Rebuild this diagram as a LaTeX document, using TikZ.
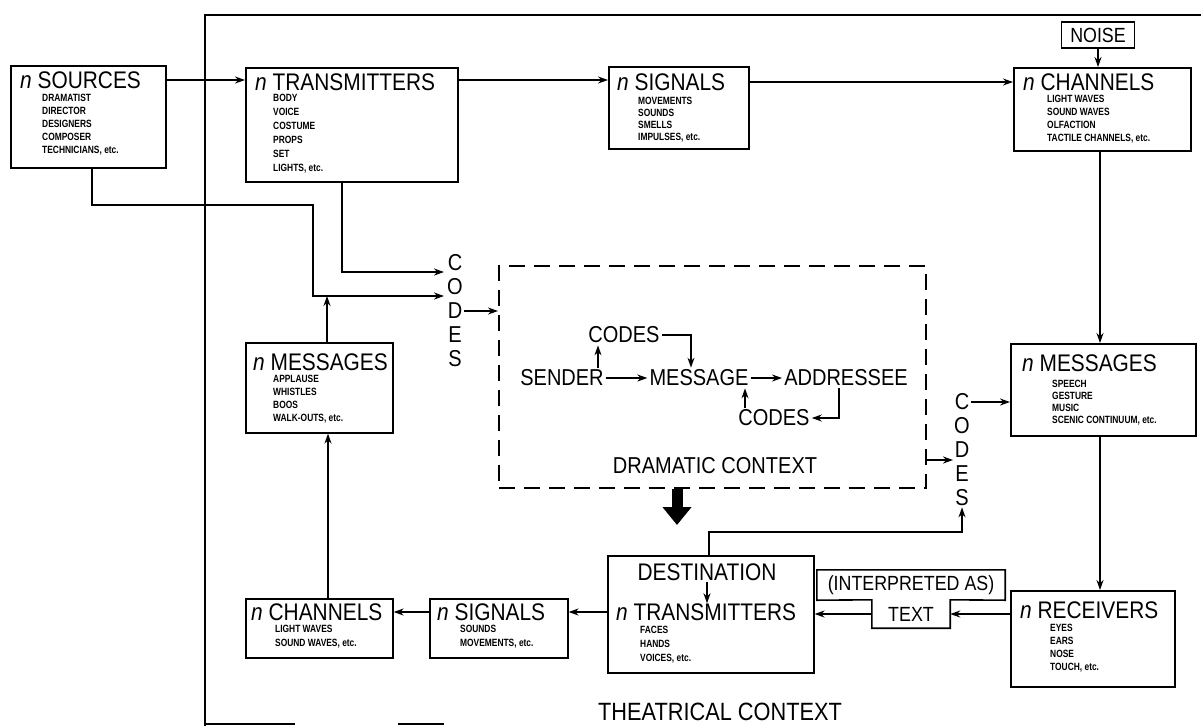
\documentclass[tikz,border=0pt]{standalone}
\usepackage{fontspec}
\setmainfont{Liberation Sans}
\newfontfamily\itemfont{Liberation Sans}[FakeStretch=0.8]
\newfontfamily\letterfont{Liberation Sans}[FakeStretch=0.87]
\usetikzlibrary{arrows.meta}
\begin{document}
\begin{tikzpicture}[x=1pt,y=-1pt,
  box/.style={draw,line width=1.6pt,anchor=north west,inner sep=0pt},
  ttl/.style={anchor=west,inner sep=0pt,font=\letterfont\fontsize{24}{24}\selectfont},
  itm/.style={anchor=north west,inner sep=0pt,align=left,font=\itemfont\fontsize{10.5}{13}\selectfont\bfseries},
  big/.style={inner sep=2pt,font=\letterfont\fontsize{23}{23}\selectfont},
  vcodes/.style={inner sep=1pt,align=center,font=\letterfont\fontsize{23}{24}\selectfont},
  ar/.style={line width=1.5pt,-{Stealth[length=10pt,width=7pt]}},
  ln/.style={line width=1.5pt},
  dashbox/.style={draw,line width=1.5pt,dash pattern=on 16pt off 9pt,anchor=north west,inner sep=0pt},
]
\useasboundingbox (0,0) rectangle (1201,726);

% theatrical frame
\draw[line width=1.6pt] (1201,15) -- (205,15) -- (205,726);
\draw[line width=1.6pt] (205,724) -- (295,724) (398,724) -- (444,724);

% ---- top row
\node[box,minimum width=155,minimum height=102] (src) at (10,65) {};
\node[ttl] (srcT) at (20,80) {\textit{n} SOURCES};
\node[itm] (srcI) at (42,94) {DRAMATIST\\DIRECTOR\\DESIGNERS\\COMPOSER\\TECHNICIANS, etc.};

\node[box,minimum width=212,minimum height=114] (trT) at (245,67) {};
\node[ttl] (trTT) at (255,82) {\textit{n} TRANSMITTERS};
\node[itm,font=\itemfont\fontsize{10.5}{14}\selectfont\bfseries] (trTI) at (273,94) {BODY\\VOICE\\COSTUME\\PROPS\\SET\\LIGHTS, etc.};

\node[box,minimum width=140,minimum height=82] (sgT) at (608,66) {};
\node[ttl] (sgTT) at (617,82) {\textit{n} SIGNALS};
\node[itm,font=\itemfont\fontsize{10.5}{12}\selectfont\bfseries] (sgTI) at (638,97) {MOVEMENTS\\SOUNDS\\SMELLS\\IMPULSES, etc.};

\node[draw,line width=1.6pt,minimum width=73,minimum height=26,inner sep=0pt,font=\letterfont\fontsize{20.5}{20.5}\selectfont] (noise) at (1098,35) {NOISE};

\node[box,minimum width=177,minimum height=83] (chT) at (1013,67) {};
\node[ttl] (chTT) at (1023,82) {\textit{n} CHANNELS};
\node[itm,font=\itemfont\fontsize{10.5}{13}\selectfont\bfseries] (chTI) at (1047,95) {LIGHT WAVES\\SOUND WAVES\\OLFACTION\\TACTILE CHANNELS, etc.};

% ---- messages
\node[box,minimum width=185,minimum height=92] (msR) at (1010,343) {};
\node[ttl] (msRT) at (1022,363) {\textit{n} MESSAGES};
\node[itm,font=\itemfont\fontsize{10.5}{12}\selectfont\bfseries] (msRI) at (1052,380) {SPEECH\\GESTURE\\MUSIC\\SCENIC CONTINUUM, etc.};

\node[box,minimum width=147,minimum height=90] (msL) at (245,342) {};
\node[ttl] (msLT) at (253,362) {\textit{n} MESSAGES};
\node[itm,font=\itemfont\fontsize{10.5}{13}\selectfont\bfseries] (msLI) at (273,375) {APPLAUSE\\WHISTLES\\BOOS\\WALK-OUTS, etc.};

% ---- codes columns
\node[vcodes] (cL) at (455,311) {C\\O\\D\\E\\S};
\node[vcodes] (cR) at (962,450) {C\\O\\D\\E\\S};

% ---- dramatic context
\node[dashbox,minimum width=427,minimum height=222] (dram) at (498,265) {};
\node[big] (cT) at (624,335) {CODES};
\node[big] (sen) at (562,378) {SENDER};
\node[big] (mes) at (699,378) {MESSAGE};
\node[big] (add) at (846,378) {ADDRESSEE};
\node[big] (cB) at (774,418) {CODES};
\node[big] (dct) at (715,466) {DRAMATIC CONTEXT};

% ---- bottom row
\node[box,minimum width=206,minimum height=117] (trB) at (607,555) {};
\node[inner sep=1pt,font=\letterfont\fontsize{24}{24}\selectfont] (dst) at (707,572) {DESTINATION};
\node[ttl] (trBT) at (616,612) {\textit{n} TRANSMITTERS};
\node[itm,font=\itemfont\fontsize{10.5}{14}\selectfont\bfseries] (trBI) at (640,626) {FACES\\HANDS\\VOICES, etc.};

\node[minimum width=188,minimum height=30,inner sep=0pt,font=\letterfont\fontsize{20.5}{20.5}\selectfont] (iA) at (911,585) {(INTERPRETED AS)};
\node[minimum width=78,minimum height=28,inner sep=0pt,font=\letterfont\fontsize{20.5}{20.5}\selectfont] (tx) at (911,614) {TEXT};
\draw[line width=1.6pt] (iA.north west) -- (iA.north east) -- (iA.south east) -- (tx.north east)
  -- (tx.south east) -- (tx.south west) -- (tx.north west) -- (iA.south west) -- cycle;

\node[box,minimum width=164,minimum height=96] (rec) at (1010,590) {};
\node[ttl] (recT) at (1020,610) {\textit{n} RECEIVERS};
\node[itm,font=\itemfont\fontsize{10.5}{13}\selectfont\bfseries] (recI) at (1050,624) {EYES\\EARS\\NOSE\\TOUCH, etc.};

\node[box,minimum width=138,minimum height=59] (sgB) at (429,598) {};
\node[ttl] (sgBT) at (437,612) {\textit{n} SIGNALS};
\node[itm,font=\itemfont\fontsize{10.5}{14}\selectfont\bfseries] (sgBI) at (460,625) {SOUNDS\\MOVEMENTS, etc.};

\node[box,minimum width=147,minimum height=59] (chB) at (245,598) {};
\node[ttl] (chBT) at (251,612) {\textit{n} CHANNELS};
\node[itm,font=\itemfont\fontsize{10.5}{14}\selectfont\bfseries] (chBI) at (275,625) {LIGHT WAVES\\SOUND WAVES, etc.};

\node[inner sep=0pt,font=\letterfont\fontsize{25}{25}\selectfont] (thc) at (720,712) {THEATRICAL CONTEXT};

% ---- helper coordinates
\coordinate (rowT) at (0,80);
\coordinate (rowT2) at (0,82);
\coordinate (s1) at (92,205);
\coordinate (k1) at (313,296);
\coordinate (t1) at (342,272);
\coordinate (m1) at (327,296);
\coordinate (d1) at (0,311);
\coordinate (v1) at (1100,0);
\coordinate (v2) at (328,0);
\coordinate (r1) at (0,460);
\coordinate (r2) at (0,402);
\coordinate (f1) at (709,532);
\coordinate (f2) at (962,532);
\coordinate (rowB) at (0,612);
\coordinate (thk) at (677,525);
\coordinate (q1) at (691,0);
\coordinate (q2) at (839,0);
\coordinate (q3) at (745,0);
\coordinate (q4) at (598,0);

% ---- connectors top
\draw[ar] (src.east |- rowT) -- (trT.west |- rowT);
\draw[ar] (trT.east |- rowT) -- (sgT.west |- rowT);
\draw[ar] (sgT.east |- rowT2) -- (chT.west |- rowT2);
\draw[ar] (noise.south) -- (chT.north -| noise.south);
\draw[ar] (chT.south -| v1) -- (msR.north -| v1);
\draw[ar] (msR.south -| v1) -- (rec.north -| v1);

% into left codes
\draw[ar,shorten >=2pt] (src.south -| s1) -- (s1) -| (k1) -- (k1 -| cL.west);
\draw[ar,shorten >=2pt] (trT.south -| t1) -- (t1) -- (t1 -| cL.west);
\draw[ar] (msL.north -| m1) -- (m1);
\draw[ar] (cL.east |- d1) -- (dram.west |- d1);

% right codes
\draw[ar] (dram.east |- r1) -- (cR.west |- r1);
\draw[ar] (cR.east |- r2) -- (msR.west |- r2);
\draw[ar] (trB.north -| f1) |- (f2) -- (cR.south -| f2);

% dramatic inner
\draw[ar] (sen.north -| q4) -- (cT.south -| q4);
\draw[ar] (cT.east) -| (mes.north -| q1);
\draw[ar] (sen.east) -- (mes.west);
\draw[ar] (mes.east) -- (add.west);
\draw[ar] (add.south -| q2) |- (cB.east);
\draw[ar] (cB.north -| q3) -- (mes.south -| q3);

% thick arrow
\draw[line width=11pt,-{Triangle[length=18pt,width=28pt]}] (dram.south -| thk) -- (thk);
\draw[ar] (dst.south) -- (dst.south |- trBT.north);

% bottom row
\draw[ar] (rec.west |- tx.east) -- (tx.east);
\draw[ar] (tx.west) -- (trB.east |- tx.west);
\draw[ar] (trB.west |- rowB) -- (sgB.east |- rowB);
\draw[ar] (sgB.west |- rowB) -- (chB.east |- rowB);
\draw[ar] (chB.north -| v2) -- (msL.south -| v2);
\end{tikzpicture}
\end{document}
